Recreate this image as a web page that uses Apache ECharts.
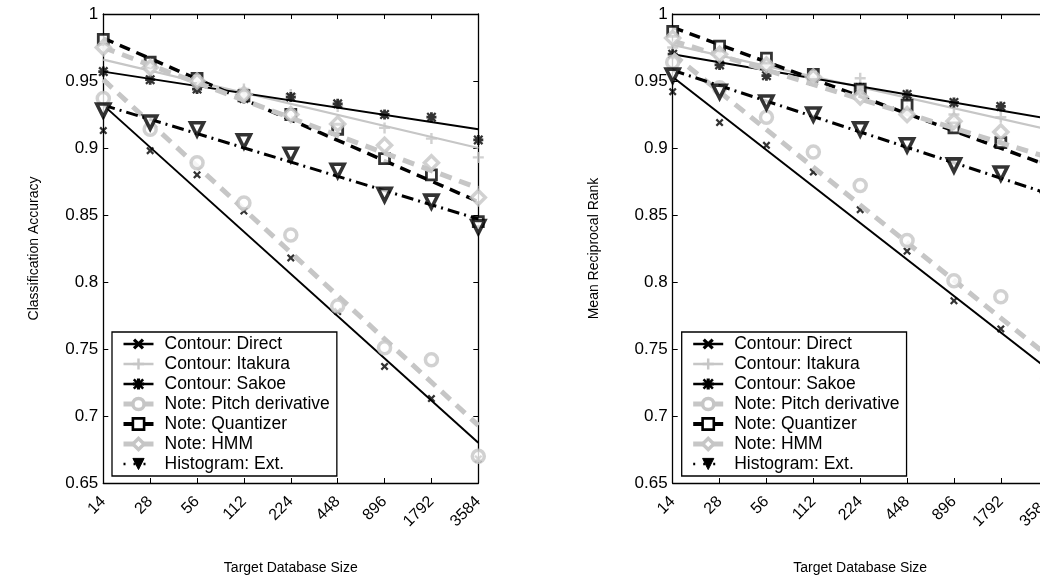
<!DOCTYPE html>
<html><head><meta charset="utf-8">
<script src="https://cdn.jsdelivr.net/npm/echarts@6/dist/echarts.min.js"></script>
<style>html,body{margin:0;padding:0;background:#fff}#c{width:1040px;height:584px}</style>
</head><body><div id="c"></div>
<script>
// ---------- data ----------
const sizes = ['14','28','56','112','224','448','896','1792','3584'];
const methods = ['Contour: Direct','Contour: Itakura','Contour: Sakoe','Note: Pitch derivative','Note: Quantizer','Note: HMM','Histogram: Ext.'];

// Left panel: Classification Accuracy (markers)
const accDirect    = [0.913, 0.898, 0.880, 0.853, 0.818, 0.778, 0.737, 0.713, 0.668];
const accItakura   = [0.975, 0.962, 0.951, 0.944, 0.940, 0.931, 0.915, 0.907, 0.893];
const accSakoe     = [0.957, 0.951, 0.944, 0.937, 0.938, 0.933, 0.925, 0.923, 0.906];
const accPitch     = [0.937, 0.914, 0.889, 0.859, 0.835, 0.782, 0.751, 0.742, 0.670];
const accQuantizer = [0.981, 0.964, 0.952, 0.939, 0.925, 0.914, 0.892, 0.880, 0.845];
const accHMM       = [0.975, 0.960, 0.950, 0.940, 0.925, 0.918, 0.902, 0.889, 0.863];
const accHist      = [0.928, 0.919, 0.914, 0.905, 0.895, 0.883, 0.865, 0.860, 0.841];
// Left panel fitted lines: [value at 14, value at 3584]
const accFitDirect    = [0.932, 0.680];
const accFitItakura   = [0.966, 0.900];
const accFitSakoe     = [0.957, 0.914];
const accFitPitch     = [0.951, 0.693];
const accFitQuantizer = [0.982, 0.860];
const accFitHMM       = [0.975, 0.870];
const accFitHist      = [0.932, 0.847];

// Right panel: Mean Reciprocal Rank (markers)
const mrrDirect    = [0.942, 0.919, 0.902, 0.882, 0.854, 0.823, 0.786, 0.765, 0.720];
const mrrItakura   = [0.975, 0.968, 0.962, 0.955, 0.952, 0.937, 0.925, 0.923, 0.910];
const mrrSakoe     = [0.970, 0.962, 0.954, 0.950, 0.945, 0.940, 0.934, 0.931, 0.920];
const mrrPitch     = [0.964, 0.945, 0.923, 0.897, 0.872, 0.831, 0.801, 0.789, 0.728];
const mrrQuantizer = [0.987, 0.976, 0.967, 0.955, 0.944, 0.932, 0.915, 0.904, 0.885];
const mrrHMM       = [0.982, 0.970, 0.962, 0.953, 0.938, 0.925, 0.920, 0.912, 0.890];
const mrrHist      = [0.954, 0.942, 0.934, 0.925, 0.914, 0.902, 0.887, 0.881, 0.862];
// Right panel fitted lines: [value at 14, value at 3584]
const mrrFitDirect    = [0.953, 0.735];
const mrrFitItakura   = [0.977, 0.914];
const mrrFitSakoe     = [0.970, 0.922];
const mrrFitPitch     = [0.970, 0.745];
const mrrFitQuantizer = [0.990, 0.887];
const mrrFitHMM       = [0.980, 0.893];
const mrrFitHist      = [0.958, 0.866];

const yMin = 0.65, yMax = 1, yStep = 0.05;

// ---------- styles ----------
const GRAY = '#c6c6c6', BLACK = '#000';
const FONT = 'Liberation Sans, Arial, Helvetica, sans-serif';
const P_X = 'path://M0,2L2,0L5,3L8,0L10,2L7,5L10,8L8,10L5,7L2,10L0,8L3,5Z';
const P_PLUS = 'path://M3.9,0H6.1V3.9H10V6.1H6.1V10H3.9V6.1H0V3.9H3.9Z';
const P_STAR = 'path://M3.6,0H6.4V3.6H10V6.4H6.4V10H3.6V6.4H0V3.6H3.6Z M1.6,0L5,3.4L8.4,0L10,1.6L6.6,5L10,8.4L8.4,10L5,6.6L1.6,10L0,8.4L3.4,5L0,1.6Z';

const styles = [
  {line:{color:BLACK,width:2,type:'solid'}, symbol:P_X, size:8, rot:0, item:{color:BLACK}, lg:{color:BLACK}},
  {line:{color:GRAY,width:2.2,type:'solid'}, symbol:P_PLUS, size:11, rot:0, item:{color:GRAY}, lg:{color:GRAY}},
  {line:{color:BLACK,width:2,type:'solid'}, symbol:P_STAR, size:10, rot:0, item:{color:BLACK}, lg:{color:BLACK}},
  {line:{color:GRAY,width:5,type:[12,8]}, symbol:'circle', size:12, rot:0, item:{color:'#fff',borderColor:GRAY,borderWidth:3.5}, lg:{color:'#fff',borderColor:GRAY,borderWidth:3.5}},
  {line:{color:BLACK,width:3.5,type:[11,7]}, symbol:'rect', size:10, rot:0, item:{color:'#fff',borderColor:BLACK,borderWidth:2.8}, lg:{color:'#fff',borderColor:BLACK,borderWidth:2.6}},
  {line:{color:GRAY,width:5,type:[12,8]}, symbol:'diamond', size:14, rot:0, item:{color:'#fff',borderColor:GRAY,borderWidth:3.5}, lg:{color:'#fff',borderColor:GRAY,borderWidth:3.5}},
  {line:{color:BLACK,width:3,type:[12,5,2,5]}, symbol:'triangle', size:13, rot:180, item:{color:'#fff',borderColor:BLACK,borderWidth:3.6}, lg:{color:BLACK,borderColor:BLACK,borderWidth:1}}
];
const legendLine = [
  {color:BLACK,width:2.5,type:'solid'},
  {color:GRAY,width:2.5,type:'solid'},
  {color:BLACK,width:2.5,type:'solid'},
  {color:GRAY,width:5,type:'solid'},
  {color:BLACK,width:4,type:'solid'},
  {color:GRAY,width:5,type:'solid'},
  {color:BLACK,width:2.5,type:[2,8]}
];

function panelSeries(gi, markers, fits) {
  const out = [];
  methods.forEach((name, i) => {
    const st = styles[i];
    out.push({
      type:'line', name, xAxisIndex:gi*2, yAxisIndex:gi*2,
      data:[[0, fits[i][0]], [sizes.length-1, fits[i][1]]],
      symbol:st.symbol, symbolSize:st.size, symbolRotate:st.rot, showSymbol:false,
      lineStyle:st.line, itemStyle:st.item, silent:true, z:2+i
    });
    out.push({
      type:'scatter', name:name+' (pts)', xAxisIndex:gi*2, yAxisIndex:gi*2,
      data:markers[i], symbol:st.symbol, symbolSize:st.size, symbolRotate:st.rot,
      itemStyle:st.item, silent:true, z:2+i
    });
  });
  return out;
}

function xAxes(gi, title) {
  return [
    {type:'category', gridIndex:gi, data:sizes, boundaryGap:false, position:'bottom',
     axisLine:{lineStyle:{color:BLACK,width:1.3}}, axisTick:{inside:true,length:5,lineStyle:{color:BLACK,width:1}},
     axisLabel:{rotate:45, margin:16, color:BLACK, fontSize:16, fontFamily:FONT, interval:0},
     name:title, nameLocation:'middle', nameGap:78, nameTextStyle:{color:BLACK,fontSize:14,fontFamily:FONT},
     splitLine:{show:false}},
    {type:'category', gridIndex:gi, data:sizes, boundaryGap:false, position:'top',
     axisLine:{lineStyle:{color:BLACK,width:1.3}}, axisTick:{inside:true,length:5,lineStyle:{color:BLACK,width:1}},
     axisLabel:{show:false}, splitLine:{show:false}}
  ];
}
function yAxes(gi, title, gap) {
  return [
    {type:'value', gridIndex:gi, min:yMin, max:yMax, interval:yStep, position:'left',
     axisLine:{show:true,lineStyle:{color:BLACK,width:1.3}}, axisTick:{show:true,inside:true,length:5,lineStyle:{color:BLACK,width:1}},
     axisLabel:{margin:5, color:BLACK, fontSize:17, fontFamily:FONT, formatter:v=>String(+v.toFixed(2))},
     name:title, nameLocation:'middle', nameGap:gap, nameRotate:90, nameTextStyle:{color:BLACK,fontSize:14,fontFamily:FONT},
     splitLine:{show:false}},
    {type:'value', gridIndex:gi, min:yMin, max:yMax, interval:yStep, position:'right',
     axisLine:{show:true,lineStyle:{color:BLACK,width:1.3}}, axisTick:{show:true,inside:true,length:5,lineStyle:{color:BLACK,width:1}},
     axisLabel:{show:false}, splitLine:{show:false}}
  ];
}
function legend(left) {
  return {
    show:true, orient:'vertical', left, top:332,
    data:methods.map((n,i)=>({name:n, itemStyle:styles[i].lg, lineStyle:legendLine[i]})),
    itemWidth:30, itemHeight:14, itemGap:2,
    padding:[3,7,3,9], backgroundColor:'#fff', borderColor:BLACK, borderWidth:1.3, borderRadius:0,
    textStyle:{color:BLACK, fontSize:17.5, fontFamily:FONT, lineHeight:18, padding:[0,0,0,6]},
    selectedMode:false
  };
}

const chart = echarts.init(document.getElementById('c'), null, {renderer:'canvas'});
const x0 = xAxes(0,'Target Database Size'), x1 = xAxes(1,'Target Database Size');
const y0 = yAxes(0,'Classification Accuracy',62), y1 = yAxes(1,'Mean Reciprocal Rank',72);
chart.setOption({
  animation:false,
  backgroundColor:'#fff',
  grid:[{left:103.3, top:14, width:375, height:469, containLabel:false, outerBoundsMode:'none'},
        {left:672.7, top:14, width:375, height:469, containLabel:false, outerBoundsMode:'none'}],
  xAxis:[...x0, ...x1],
  yAxis:[...y0, ...y1],
  legend:[legend(112), legend(681.7)],
  series:[
    ...panelSeries(0,[accDirect,accItakura,accSakoe,accPitch,accQuantizer,accHMM,accHist],
                     [accFitDirect,accFitItakura,accFitSakoe,accFitPitch,accFitQuantizer,accFitHMM,accFitHist]),
    ...panelSeries(1,[mrrDirect,mrrItakura,mrrSakoe,mrrPitch,mrrQuantizer,mrrHMM,mrrHist],
                     [mrrFitDirect,mrrFitItakura,mrrFitSakoe,mrrFitPitch,mrrFitQuantizer,mrrFitHMM,mrrFitHist])
  ]
});
</script></body></html>
